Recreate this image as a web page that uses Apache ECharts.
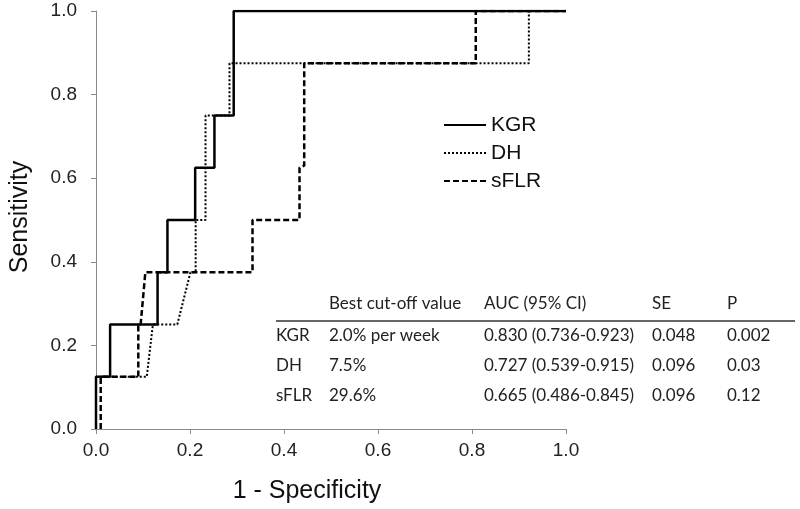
<!DOCTYPE html>
<html>
<head>
<meta charset="utf-8">
<script src="https://cdn.jsdelivr.net/npm/echarts@6/dist/echarts.min.js"></script>
<style>html,body{margin:0;padding:0;background:#fff;}#c{width:800px;height:509px;}</style>
</head>
<body>
<div id="c"></div>
<script>
// ROC curves: x = 1 - Specificity, y = Sensitivity
const kgrX = [0, 0, 0.03, 0.03, 0.131, 0.131, 0.152, 0.152, 0.211, 0.211, 0.252, 0.252, 0.293, 0.293, 1.0];
const kgrY = [0, 0.125, 0.125, 0.25, 0.25, 0.375, 0.375, 0.5, 0.5, 0.625, 0.625, 0.75, 0.75, 1.0, 1.0];

const dhX = [0, 0, 0.108, 0.121, 0.173, 0.201, 0.212, 0.212, 0.233, 0.233, 0.284, 0.284, 0.921, 0.921, 1.0];
const dhY = [0, 0.125, 0.125, 0.25, 0.25, 0.375, 0.375, 0.5, 0.5, 0.75, 0.75, 0.875, 0.875, 1.0, 1.0];

const sflrX = [0.01, 0.01, 0.09, 0.09, 0.095, 0.105, 0.333, 0.333, 0.433, 0.433, 0.443, 0.443, 0.808, 0.808, 1.0];
const sflrY = [0, 0.125, 0.125, 0.25, 0.25, 0.375, 0.375, 0.5, 0.5, 0.625, 0.63, 0.875, 0.875, 1.0, 1.0];

const seriesNames = ['KGR', 'DH', 'sFLR'];

const tableHeaders = ['', 'Best cut-off value', 'AUC (95% CI)', 'SE', 'P'];
const tableRows = [
  ['KGR', '2.0% per week', '0.830 (0.736-0.923)', '0.048', '0.002'],
  ['DH', '7.5%', '0.727 (0.539-0.915)', '0.096', '0.03'],
  ['sFLR', '29.6%', '0.665 (0.486-0.845)', '0.096', '0.12']
];

function pairs(xs, ys) { return xs.map((x, i) => [x, ys[i]]); }

const chart = echarts.init(document.getElementById('c'), null, {renderer: 'canvas'});

const arial = '"Liberation Sans", Arial, sans-serif';
const tableFont = 'Lato, "Open Sans", sans-serif';
const colX = [276, 329, 484, 652, 727];
const headerY = 305;
const rowY = [337, 367, 397];
const graphics = [];
tableHeaders.forEach((h, j) => {
  if (h) graphics.push({type: 'text', left: colX[j], top: headerY - 10,
    style: {text: h, font: '17px ' + tableFont, fill: '#222'}});
});
graphics.push({type: 'line', shape: {x1: 276, y1: 321, x2: 795, y2: 321},
  style: {stroke: '#333', lineWidth: 1.5}});
tableRows.forEach((r, i) => {
  r.forEach((v, j) => {
    graphics.push({type: 'text', left: colX[j], top: rowY[i] - 10,
      style: {text: v, font: '17px ' + tableFont, fill: '#222'}});
  });
});

const axisCommon = {
  type: 'value', min: 0, max: 1, interval: 0.2,
  axisLine: {show: true, lineStyle: {color: '#8a8a8a', width: 1}},
  axisTick: {show: true, length: 5, lineStyle: {color: '#8a8a8a'}},
  splitLine: {show: false},
  axisLabel: {fontFamily: arial, fontSize: 19, color: '#222',
    formatter: v => v.toFixed(1)}
};

chart.setOption({
  animation: false,
  backgroundColor: '#fff',
  grid: {left: 91, right: 234, top: 11, bottom: 79, containLabel: false},
  xAxis: Object.assign({}, axisCommon, {
    name: '1 - Specificity', nameLocation: 'middle', nameGap: 50,
    nameTextStyle: {fontFamily: arial, fontSize: 25, color: '#111', padding: [0, 48, 0, 0]},
    axisLabel: Object.assign({}, axisCommon.axisLabel, {margin: 12})
  }),
  yAxis: Object.assign({}, axisCommon, {
    name: 'Sensitivity', nameLocation: 'middle', nameGap: 63,
    nameTextStyle: {fontFamily: arial, fontSize: 25, color: '#111', padding: [0, 0, 0, 6]},
    axisLabel: Object.assign({}, axisCommon.axisLabel, {margin: 19})
  }),
  legend: {
    orient: 'vertical', left: 443, top: 114, padding: 0,
    itemWidth: 42, itemHeight: 14, itemGap: 6,
    itemStyle: {opacity: 0},
    textStyle: {fontFamily: arial, fontSize: 21, color: '#111', lineHeight: 22},
    data: seriesNames.map(n => ({name: n}))
  },
  graphic: graphics,
  series: [
    {name: seriesNames[0], type: 'line', data: pairs(kgrX, kgrY), symbol: 'none',
      lineStyle: {color: '#000', width: 2.5, type: 'solid'}, itemStyle: {color: '#000'}, z: 3},
    {name: seriesNames[1], type: 'line', data: pairs(dhX, dhY), symbol: 'none',
      lineStyle: {color: '#000', width: 2, type: [2, 2]}, itemStyle: {color: '#000'}, z: 2},
    {name: seriesNames[2], type: 'line', data: pairs(sflrX, sflrY), symbol: 'none',
      lineStyle: {color: '#000', width: 2.5, type: [6, 3]}, itemStyle: {color: '#000'}, z: 2}
  ]
});
</script>
</body>
</html>
